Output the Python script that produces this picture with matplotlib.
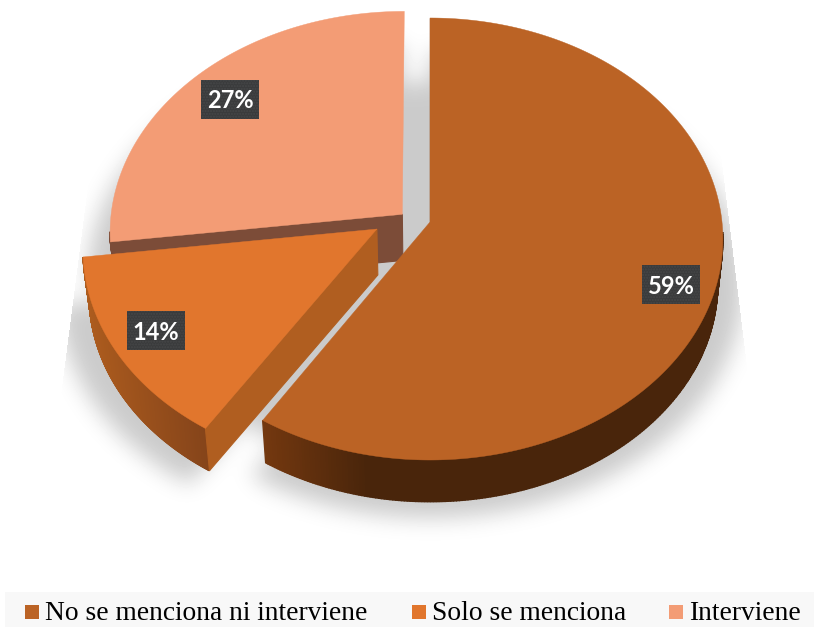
"""Exploded 3D-style pie of how often a topic is mentioned or acted on."""

import matplotlib

matplotlib.use("Agg")
import matplotlib.pyplot as plt
import numpy as np
from matplotlib.colors import to_rgb
from matplotlib.path import Path
from matplotlib.patches import Polygon, Rectangle

# chart data, clockwise from twelve o'clock
categories = ["No se menciona ni interviene", "Solo se menciona", "Interviene"]
values = [59, 14, 27]

top_colors = ["#bb6325", "#e1762d", "#f39c75"]
# outer wall colour at the left and right end of each slice's visible arc
wall_left = ["#74380f", "#ad5c1e", "#7c4c38"]
wall_right = ["#49250b", "#85441a", "#7c4c38"]
cut_colors = ["#49250b", "#b05e20", "#7c4c38"]

# offset of each slice on the pie plane, in radii
explode_x = [0.0, -0.1815, -0.095]
explode_y = [0.0, -0.032, 0.035]

# label box centres and legend layout, in pixels
label_x = [671, 155.5, 230]
label_y = [284.5, 330, 99]
legend_box_x = [25, 412, 669]
legend_text_x = [45, 432, 689]

WIDTH, HEIGHT = 814, 627
APEX_X, APEX_Y = 430.0, 222.0
RADIUS_X, RADIUS_Y = 292.0, 219.7
PERSPECTIVE = 0.0769
DEPTH = 46.0
SHRINK = 0.982


def project(px, py):
    """Map a point on the unit pie plane to pixel coordinates."""
    s = 1.0 / (1.0 + PERSPECTIVE * py)
    return APEX_X + RADIUS_X * px * s, APEX_Y - RADIUS_Y * py * s


def lower(x, y):
    """Drop a top-plane pixel to the bottom plane of the pie."""
    return APEX_X + (x - APEX_X) * SHRINK, y + DEPTH - 0.018 * (y - APEX_Y)


def slice_outline(start, end, ex, ey, n=400):
    """Return apex and rim pixel coordinates of one exploded slice."""
    theta = np.radians(np.linspace(start, end, n))
    rim_x, rim_y = project(np.sin(theta) + ex, np.cos(theta) + ey)
    apex = project(ex, ey)
    return apex, rim_x, rim_y


def blur(img, sigma):
    fx = np.fft.rfftfreq(img.shape[1])
    fy = np.fft.fftfreq(img.shape[0])
    kernel = np.exp(-2 * (np.pi * sigma) ** 2 * (fx[None, :] ** 2 + fy[:, None] ** 2))
    return np.fft.irfft2(np.fft.rfft2(img) * kernel, s=img.shape)


def shadow_image(outlines):
    """Soft grey ground shadow under the whole pie."""
    xx, yy = np.meshgrid(np.arange(WIDTH) + 0.5, np.arange(HEIGHT) + 0.5)
    grid = np.column_stack([xx.ravel(), yy.ravel()])
    mask = np.zeros(grid.shape[0], dtype=bool)
    for apex, rim_x, rim_y in outlines:
        sx = APEX_X + (np.r_[apex[0], rim_x] - APEX_X) * 1.07
        sy = APEX_Y + (np.r_[apex[1], rim_y] - APEX_Y) * 1.054 + 45.0
        mask |= Path(np.column_stack([sx, sy])).contains_points(grid)
    # the gap between slices is shaded too
    theta = np.radians(np.linspace(0, 360, 200))
    gx, gy = project(np.sin(theta) * 0.9, np.cos(theta) * 0.9)
    mask |= Path(np.column_stack([gx, gy + 45.0])).contains_points(grid)
    soft = blur(mask.reshape(xx.shape).astype(float), 11.0)
    # hard side limits of the shadow
    soft[xx > 729 + (yy - 220) * 16 / 130] = 0
    soft[xx < 75 - (yy - 287) * 12 / 93] = 0
    return 1.0 - 0.205 * np.clip(soft, 0, 1)


fig = plt.figure(figsize=(WIDTH / 100, HEIGHT / 100), dpi=100)
ax = fig.add_axes([0, 0, 1, 1])
ax.set_xlim(0, WIDTH)
ax.set_ylim(HEIGHT, 0)
ax.axis("off")

edges = np.cumsum([0] + values) * 360.0 / sum(values)
outlines = [
    slice_outline(edges[i], edges[i + 1], explode_x[i], explode_y[i])
    for i in range(len(values))
]

ax.imshow(
    shadow_image(outlines),
    cmap="gray",
    vmin=0,
    vmax=1,
    extent=(0, WIDTH, HEIGHT, 0),
    aspect="auto",
    zorder=0,
    interpolation="bilinear",
)

# back to front: the far slice first, the large slice last
for z, i in enumerate([2, 1, 0]):
    apex, rim_x, rim_y = outlines[i]
    low_x, low_y = lower(rim_x, rim_y)
    c_left = np.array(to_rgb(wall_left[i]))
    c_right = np.array(to_rgb(wall_right[i]))
    span_right = APEX_X if i == 0 else rim_x[0]
    span_left = rim_x.min() if i != 0 else rim_x[-1]

    for k in range(len(rim_x) - 1):
        # the rim's far side hides its wall
        if rim_y[k] < APEX_Y + 10:
            continue
        t = np.clip((rim_x[k] - span_left) / (span_right - span_left), 0, 1)
        if i == 0:
            t = min(1.0, t * 1.6)
        col = c_left + (c_right - c_left) * t
        quad = [
            (rim_x[k], rim_y[k]),
            (rim_x[k + 1], rim_y[k + 1]),
            (low_x[k + 1], low_y[k + 1]),
            (low_x[k], low_y[k]),
        ]
        ax.add_patch(Polygon(quad, fc=col, ec=col, lw=1.0, zorder=2 + 3 * z))

    # flat cut face along the slice's leading edge
    apex_low = lower(*apex)
    face = [apex, (rim_x[0], rim_y[0]), (low_x[0], low_y[0]), apex_low]
    ax.add_patch(
        Polygon(face, fc=cut_colors[i], ec=cut_colors[i], lw=0.8, zorder=3 + 3 * z)
    )

    top = np.column_stack([np.r_[apex[0], rim_x], np.r_[apex[1], rim_y]])
    ax.add_patch(Polygon(top, fc=top_colors[i], ec=top_colors[i], lw=0.3, zorder=4 + 3 * z))

# percentage labels on dark boxes
for i, v in enumerate(values):
    ax.add_patch(
        Rectangle(
            (label_x[i] - 29, label_y[i] - 19.5),
            58,
            39,
            fc="#3a3b3c",
            ec="#464748",
            lw=0,
            hatch="......",
            zorder=20,
        )
    )
    ax.text(
        label_x[i],
        label_y[i],
        f"{v}%",
        color="white",
        fontsize=17,
        fontweight="bold",
        family="Lato",
        ha="center",
        va="center_baseline",
        zorder=21,
    )

# legend strip
ax.add_patch(Rectangle((5, 592), WIDTH - 5, HEIGHT - 592, fc="#f8f8f8", ec="none", zorder=1))
for i, name in enumerate(categories):
    ax.add_patch(Rectangle((legend_box_x[i], 605), 14, 14, fc=top_colors[i], ec="none", zorder=22))
    ax.text(
        legend_text_x[i],
        620.5,
        name,
        color="black",
        fontsize=19.8,
        family="Liberation Serif",
        ha="left",
        va="baseline",
        zorder=22,
    )

fig.savefig("out.png", dpi=100, facecolor="white")
